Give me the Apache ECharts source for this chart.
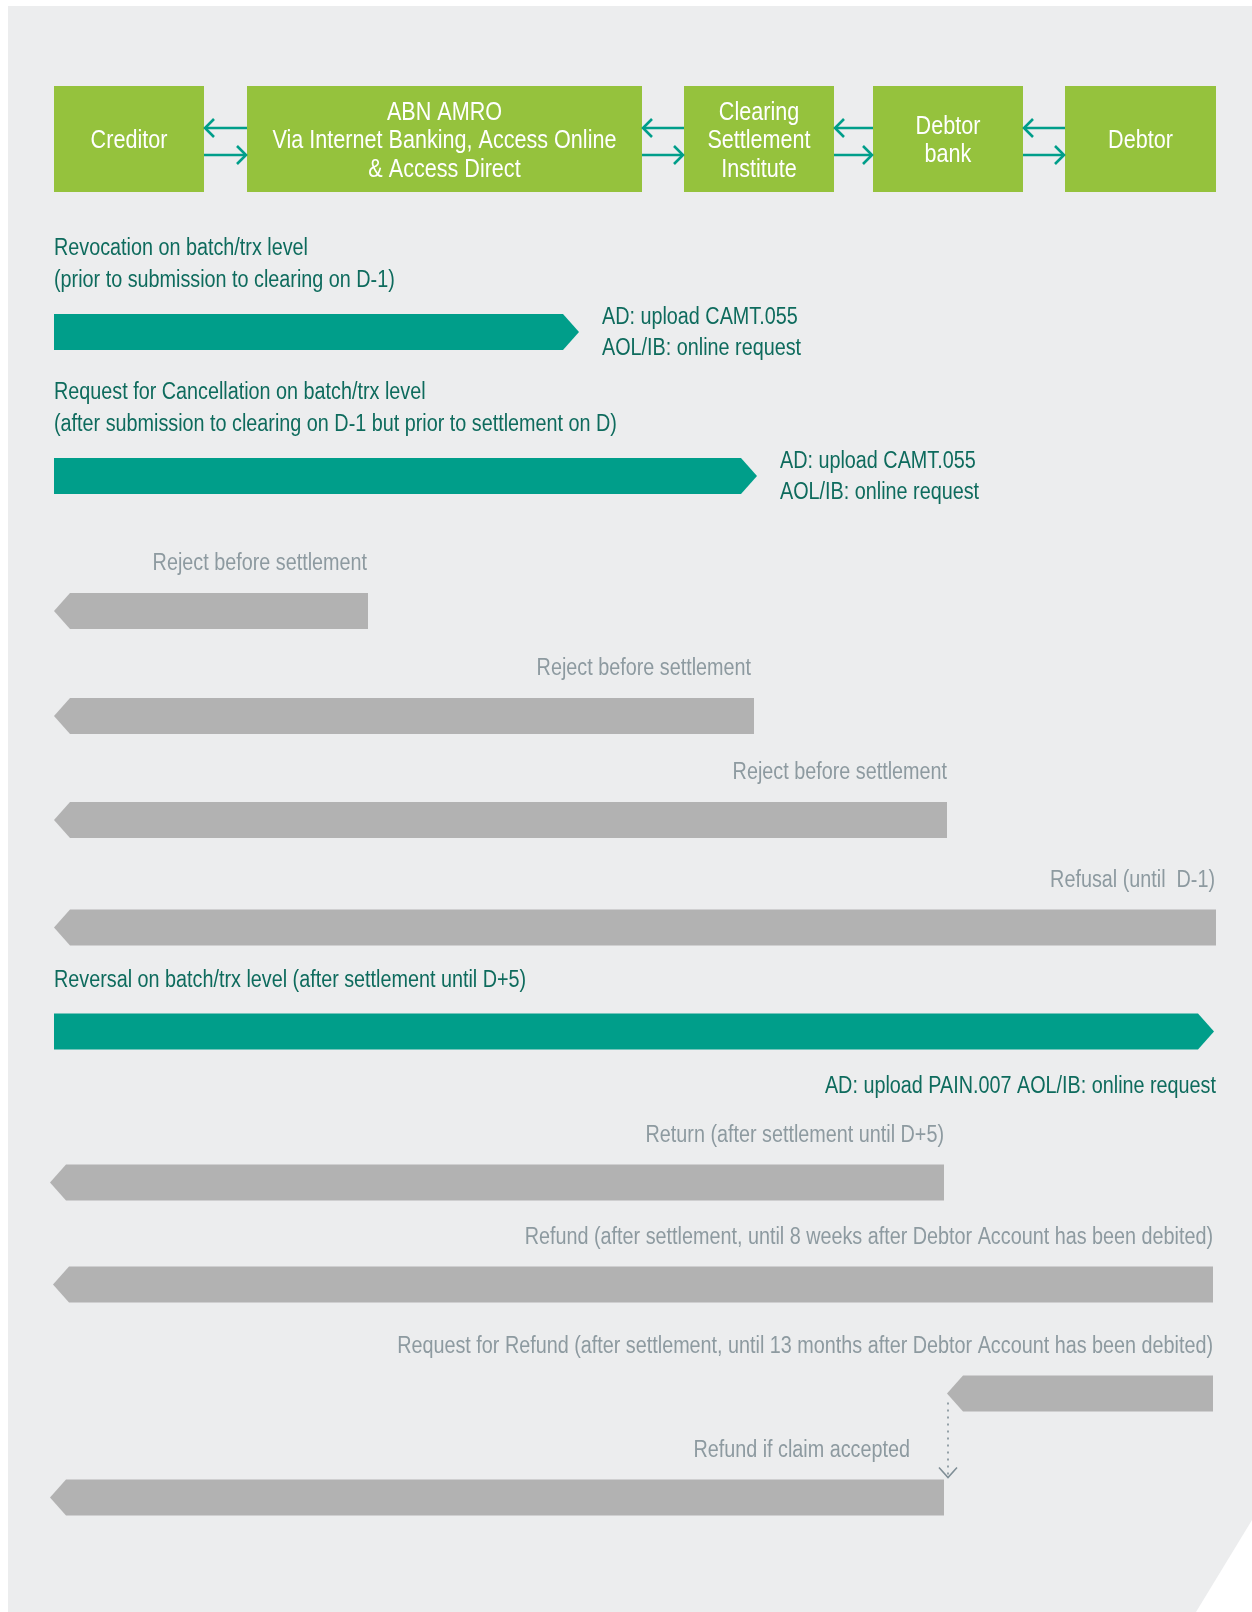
<!DOCTYPE html>
<html><head><meta charset="utf-8">
<script src="https://cdn.jsdelivr.net/npm/echarts@6/dist/echarts.min.js"></script>
<style>html,body{margin:0;padding:0;background:#ffffff}#c{width:1252px;height:1612px}</style>
</head><body><div id="c"></div>
<script>
// ---------------- DATA ----------------
const participants = ['Creditor', 'ABN AMRO\nVia Internet Banking, Access Online\n& Access Direct', 'Clearing\nSettlement\nInstitute', 'Debtor\nbank', 'Debtor'];
const participantStart = [54, 247, 684, 873, 1065];
const participantEnd = [204, 642, 834, 1023, 1216];

const flowTitles = [
  'Revocation on batch/trx level\n(prior to submission to clearing on D-1)',
  'Request for Cancellation on batch/trx level\n(after submission to clearing on D-1 but prior to settlement on D)',
  'Reject before settlement',
  'Reject before settlement',
  'Reject before settlement',
  'Refusal (until  D-1)',
  'Reversal on batch/trx level (after settlement until D+5)',
  'Return (after settlement until D+5)',
  'Refund (after settlement, until 8 weeks after Debtor Account has been debited)',
  'Request for Refund (after settlement, until 13 months after Debtor Account has been debited)',
  'Refund if claim accepted'
];
const flowNotes = ['AD: upload CAMT.055\nAOL/IB: online request', 'AD: upload CAMT.055\nAOL/IB: online request', '', '', '', '', 'AD: upload PAIN.007 AOL/IB: online request', '', '', '', ''];
const flowKind = ['creditor', 'creditor', 'debtor', 'debtor', 'debtor', 'debtor', 'creditor', 'debtor', 'debtor', 'debtor', 'debtor'];
const flowFrom = [54, 54, 368, 754, 947, 1216, 54, 944, 1213, 1213, 944];
const flowTo = [579, 757, 54, 54, 54, 54, 1214, 50, 53, 947, 50];
// claim (row index) -> accepted refund (row index)
const claimLinks = [[9, 10]];

// ---------------- LAYOUT ----------------
const BOX_TOP = 86, BOX_BOTTOM = 192;
const LINK_BACK_Y = 128, LINK_FWD_Y = 155;
const rowY = [332, 476, 611, 716, 820, 927.5, 1031.5, 1182.5, 1284.5, 1393.5, 1497.5];
const labelShift = [0, 0, -1, -3, 0, -1, 0, 0, 0, 0, -34];
const noteMode = ['side', 'side', '', '', '', '', 'below', '', '', '', ''];
const BAR_HALF = 18, TIP = 16;

const FONT = '"Liberation Sans", Arial, Helvetica, sans-serif';
const SQUEEZE = 0.86;
const C = {
  panel: '#ECEDEE', green: '#95C23D', teal: '#009E8A', grey: '#B2B2B2',
  tealText: '#0E6B5D', greyText: '#8D9AA0', dots: '#7F8E96'
};

const chart = echarts.init(document.getElementById('c'), null, {renderer: 'canvas'});

function P(api, x, y) { return api.coord([x, y]); }
function txt(text, pos, align, vAlign, fill, size, lh, squeeze) {
  return {type: 'text', x: pos[0], y: pos[1], scaleX: squeeze || SQUEEZE, scaleY: 1,
    style: {text: text, x: 0, y: 0, align: align, verticalAlign: vAlign, fill: fill,
      fontSize: size, fontFamily: FONT, lineHeight: lh}};
}

const option = {
  animation: false,
  backgroundColor: '#ffffff',
  graphic: [{
    type: 'polygon', z: -10, silent: true,
    shape: {points: [[8, 6], [1252, 6], [1252, 1520], [1196, 1612], [8, 1612]]},
    style: {fill: C.panel}
  }],
  grid: {left: 0, right: 0, top: 0, bottom: 0},
  xAxis: {type: 'value', min: 0, max: 1252, show: false},
  yAxis: {type: 'value', min: 0, max: 1612, inverse: true, show: false},
  series: [
    {
      type: 'custom', name: 'participants', clip: false,
      data: participants.map((n, i) => [participantStart[i], participantEnd[i], i]),
      encode: {x: [0, 1]},
      renderItem: function (params, api) {
        const i = params.dataIndex;
        const a = P(api, api.value(0), BOX_TOP), b = P(api, api.value(1), BOX_BOTTOM);
        return {type: 'group', children: [
          {type: 'rect', shape: {x: a[0], y: a[1], width: b[0] - a[0], height: b[1] - a[1]}, style: {fill: C.green}},
          txt(participants[i], [(a[0] + b[0]) / 2, (a[1] + b[1]) / 2 + 2], 'center', 'middle', '#ffffff', 26, 28.5, 0.83)
        ]};
      }
    },
    {
      type: 'custom', name: 'links', clip: false,
      data: participants.slice(1).map((n, i) => [participantEnd[i], participantStart[i + 1]]),
      encode: {x: [0, 1]},
      renderItem: function (params, api) {
        const x0 = api.value(0), x1 = api.value(1);
        const back = [P(api, x0, LINK_BACK_Y), P(api, x1, LINK_BACK_Y)];
        const fwd = [P(api, x0, LINK_FWD_Y), P(api, x1, LINK_FWD_Y)];
        const st = {stroke: C.teal, lineWidth: 2.6, fill: null};
        const h = 9;
        return {type: 'group', children: [
          {type: 'line', shape: {x1: back[0][0] + 1, y1: back[0][1], x2: back[1][0], y2: back[1][1]}, style: st},
          {type: 'polyline', shape: {points: [[back[0][0] + 1 + h, back[0][1] - h], [back[0][0] + 1, back[0][1]], [back[0][0] + 1 + h, back[0][1] + h]]}, style: st},
          {type: 'line', shape: {x1: fwd[0][0], y1: fwd[0][1], x2: fwd[1][0] - 1, y2: fwd[1][1]}, style: st},
          {type: 'polyline', shape: {points: [[fwd[1][0] - 1 - h, fwd[1][1] - h], [fwd[1][0] - 1, fwd[1][1]], [fwd[1][0] - 1 - h, fwd[1][1] + h]]}, style: st}
        ]};
      }
    },
    {
      type: 'custom', name: 'flows', clip: false,
      data: flowFrom.map((f, i) => [f, flowTo[i], rowY[i]]),
      encode: {x: [0, 1], y: 2},
      renderItem: function (params, api) {
        const i = params.dataIndex;
        const from = api.value(0), to = api.value(1), y = api.value(2);
        const dir = to > from ? 1 : -1;
        const pts = [
          P(api, from, y - BAR_HALF), P(api, to - dir * TIP, y - BAR_HALF), P(api, to, y),
          P(api, to - dir * TIP, y + BAR_HALF), P(api, from, y + BAR_HALF)
        ];
        const cred = flowKind[i] === 'creditor';
        const children = [{type: 'polygon', shape: {points: pts}, style: {fill: cred ? C.teal : C.grey}}];
        const lab = P(api, from + labelShift[i], y - (cred ? 35 : 31));
        children.push(txt(flowTitles[i], lab, cred ? 'left' : 'right', 'bottom', cred ? C.tealText : C.greyText, 23, 32));
        if (flowNotes[i]) {
          if (noteMode[i] === 'side') {
            children.push(txt(flowNotes[i], P(api, to + 23, y + 1), 'left', 'middle', C.tealText, 23, 31));
          } else {
            children.push(txt(flowNotes[i], P(api, Math.max(from, to) + 2, y + 55), 'right', 'middle', C.tealText, 23, 31));
          }
        }
        return {type: 'group', children: children};
      }
    },
    {
      type: 'custom', name: 'claim', clip: false,
      data: claimLinks.map(l => [flowTo[l[0]] + 1, rowY[l[0]], rowY[l[1]]]),
      encode: {x: 0, y: [1, 2]},
      renderItem: function (params, api) {
        const x = api.value(0);
        const a = P(api, x, api.value(1) + 9), b = P(api, x, api.value(2) - BAR_HALF - 2);
        const st = {stroke: C.dots, lineWidth: 1.6, fill: null};
        return {type: 'group', children: [
          {type: 'line', shape: {x1: a[0], y1: a[1], x2: b[0], y2: b[1] - 3}, style: Object.assign({lineDash: [2, 5]}, st)},
          {type: 'polyline', shape: {points: [[b[0] - 9, b[1] - 10], [b[0], b[1]], [b[0] + 9, b[1] - 10]]}, style: st}
        ]};
      }
    }
  ]
};
chart.setOption(option);
</script>
</body></html>
